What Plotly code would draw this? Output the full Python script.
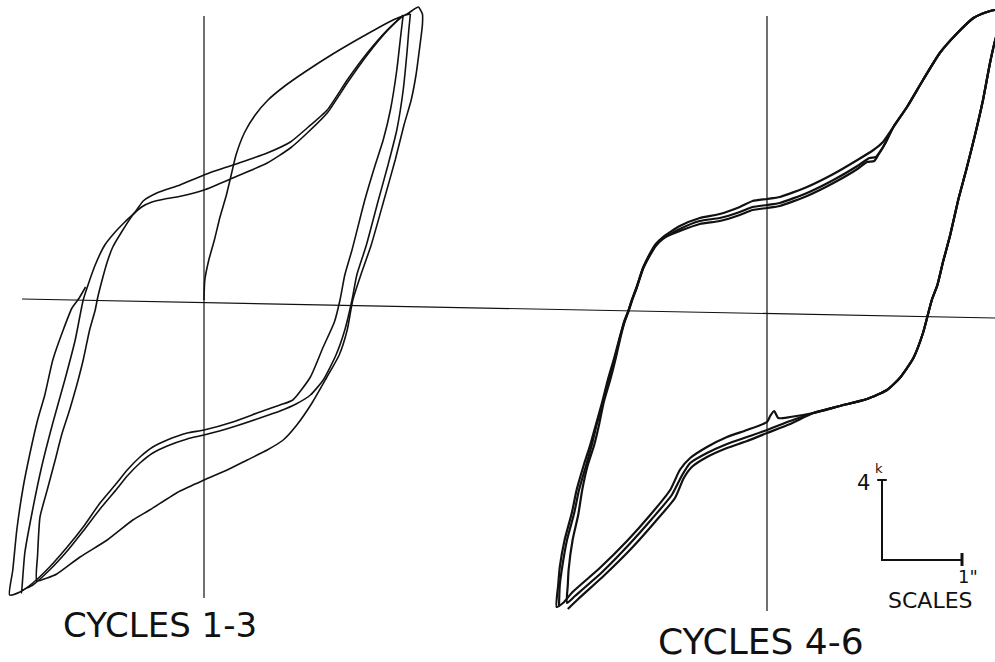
import plotly.graph_objects as go

# ---------------- data: displacement (in) and load (kips) ----------------
# LEFT PANEL: cycles 1-3
L_C1_X = [0, 0.01, 0.06, 0.13, 0.2, 0.28, 0.34, 0.4, 0.51, 0.64, 0.8, 1.01, 1.26, 1.61, 2.04, 2.39, 2.54,
          2.63, 2.68, 2.73, 2.73, 2.7, 2.65, 2.59, 2.5, 2.39, 2.25, 2.09, 1.96, 1.86, 1.79, 1.69, 1.53, 1.35,
          1.16, 0.99, 0.79, 0.54, 0.29, 0, -0.3, -0.68, -0.89, -1.21, -1.55, -1.84, -1.96, -2.09,
          -2.08, -2.05, -1.96, -1.86, -1.78, -1.68, -1.59, -1.51, -1.43, -1.36, -1.33, -1.28, -1.21, -1.14,
          -1.03, -0.89, -0.78, -0.65, -0.49, -0.28, 0, 0.36, 0.79, 1.08, 1.29, 1.54, 1.79, 2.04, 2.3, 2.49, 2.58]
L_C1_Y = [0, 1.0, 2.0, 3.0, 4.15, 5.25, 6.25, 7.25, 8.4, 9.25, 10.0, 10.7, 11.4, 12.3, 13.3, 14.05, 14.3,
          14.55, 14.65, 14.3, 13.75, 12.75, 11.25, 10.0, 8.75, 7.0, 5.0, 2.75, 1.25, 0, -1.5, -2.75, -3.9, -5.15,
          -6.25, -7.0, -7.5, -8.0, -8.5, -9.0, -9.55, -10.5, -11.0, -12.0, -12.85, -13.7, -13.9, -14.05,
          -12.75, -10.85, -9.5, -8.0, -6.75, -5.5, -4.25, -3.0, -1.5, -0.5, 0.1, 0.9, 1.9, 2.65,
          3.4, 4.25, 4.65, 4.9, 5.05, 5.2, 5.5, 6.1, 6.85, 7.6, 8.35, 9.35, 10.85, 12.25, 13.5, 14.2, 14.3]

L_C2_X = [2.58, 2.56, 2.54, 2.49, 2.41, 2.3, 2.18, 2.03, 1.91, 1.85, 1.76, 1.65, 1.49, 1.33, 1.15, 0.95,
          0.7, 0.36, 0, -0.21, -0.46, -0.64, -0.8, -0.96, -1.09, -1.3, -1.51, -1.71, -1.93, -2.14, -2.28,
          -2.28, -2.24, -2.15, -2.03, -1.89, -1.74, -1.61, -1.51, -1.45, -1.36, -1.24, -1.11, -0.99, -0.86,
          -0.76, -0.59, -0.3, 0, 0.36, 0.79, 1.08, 1.29, 1.54, 1.79, 2.04, 2.29, 2.49]
L_C2_Y = [14.3, 13.5, 12.5, 10.5, 8.5, 6.75, 5.0, 2.75, 1.25, 0, -1.5, -2.75, -4.0, -4.75, -5.2, -5.55,
          -5.9, -6.35, -6.75, -6.95, -7.3, -7.65, -8.15, -8.8, -9.45, -10.45, -11.55, -12.55, -13.5, -14.25, -14.55,
          -14.65, -12.65, -10.65, -8.35, -6.15, -4.0, -2.0, 0, 0.75, 1.75, 2.75, 3.4, 3.9, 4.4,
          4.95, 5.35, 5.75, 6.25, 6.75, 7.35, 7.9, 8.6, 9.5, 11.0, 12.35, 13.5, 14.25]

L_C3_X = [2.49, 2.46, 2.41, 2.33, 2.24, 2.14, 2.01, 1.85, 1.76, 1.7, 1.63, 1.49, 1.33, 1.11, 0.95, 0.7,
          0.36, 0, -0.21, -0.46, -0.64, -0.8, -0.96, -1.09, -1.3, -1.51, -1.71, -1.93, -2.14, -2.3, -2.43,
          -2.39, -2.34, -2.26, -2.18, -2.08, -1.99, -1.89, -1.76, -1.65, -1.56, -1.48]
L_C3_Y = [14.25, 13.25, 11.5, 9.5, 8.0, 6.75, 5.0, 2.5, 1.25, 0, -1.1, -2.35, -3.85, -5.0, -5.25, -5.6,
          -6.1, -6.5, -6.65, -7.0, -7.35, -7.85, -8.5, -9.15, -10.15, -11.35, -12.35, -13.35, -14.15, -14.6, -14.75,
          -13.5, -11.5, -9.35, -7.75, -6.0, -4.75, -3.0, -1.5, -0.4, 0.1, 0.65]

# RIGHT PANEL: cycles 4-6
R_TOP_X = [1.58, 1.75, 1.95, 2.16, 2.38, 2.58, 2.75, 2.85, 2.93, 2.95,
           2.93, 2.86, 2.79, 2.7, 2.6, 2.49, 2.39, 2.29, 2.2, 2.13, 2.06, 2.01, 1.95, 1.83, 1.66, 1.5, 1.25, 0.91, 0.58]
R_TOP_Y = [9.3, 10.3, 11.65, 13.0, 14.0, 14.75, 15.05, 15.15, 15.1, 14.85,
           14.4, 13.75, 12.55, 10.65, 8.9, 7.15, 5.65, 3.9, 2.55, 1.4, 0.65, -0.1, -1.0, -2.25, -3.25, -3.85, -4.3, -4.65, -5.0]

R_C4_RISE_X = [-2.63, -2.61, -2.59, -2.53, -2.44, -2.38, -2.29, -2.21, -2.14, -2.06, -1.99, -1.91, -1.84, -1.78,
               -1.73, -1.68, -1.63, -1.55, -1.46, -1.39, -1.3, -1.09, -0.84, -0.59, -0.34, -0.18, 0, 0.16, 0.5,
               0.83, 1.13, 1.33, 1.45]
R_C4_RISE_Y = [-14.7, -13.6, -12.7, -11.35, -10.0, -8.85, -7.6, -6.6, -5.6, -4.45, -3.35, -2.25, -1.2, -0.35,
               0.15, 0.75, 1.3, 2.25, 3.0, 3.45, 3.8, 4.35, 4.75, 4.95, 5.3, 5.6, 5.7, 5.8, 6.3,
               6.95, 7.65, 8.15, 8.55]
R_C4_FALL_X = [0.29, 0.14, 0.09, 0.04, 0, -0.25, -0.5, -0.75, -0.96, -1.09, -1.21, -1.46, -1.75, -2.09, -2.43, -2.55, -2.63]
R_C4_FALL_Y = [-5.2, -5.25, -4.9, -5.15, -5.45, -5.85, -6.2, -6.7, -7.25, -7.85, -8.85, -10.1, -11.4, -12.75, -13.95, -14.5, -14.7]

R_C5_RISE_X = [-2.5, -2.49, -2.48, -2.43, -2.36, -2.31, -2.24, -2.16, -2.1, -2.04, -1.96, -1.89, -1.83, -1.78,
               -1.74, -1.69, -1.63, -1.55, -1.46, -1.39, -1.3, -1.09, -0.84, -0.59, -0.34, -0.18, 0, 0.16, 0.5,
               0.83, 1.13, 1.28, 1.36, 1.41, 1.48]
R_C5_RISE_Y = [-14.5, -13.6, -12.85, -11.35, -10.1, -8.85, -7.6, -6.6, -5.6, -4.45, -3.35, -2.25, -1.2, -0.45,
               0, 0.65, 1.25, 2.2, 2.9, 3.35, 3.7, 4.2, 4.6, 4.75, 5.05, 5.3, 5.4, 5.5, 6.0,
               6.65, 7.35, 7.75, 7.8, 8.05, 8.5]
R_C5_FALL_X = [0.29, 0, -0.25, -0.5, -0.75, -0.96, -1.06, -1.19, -1.44, -1.73, -2.06, -2.4, -2.5]
R_C5_FALL_Y = [-5.4, -5.85, -6.2, -6.55, -7.0, -7.5, -8.1, -9.1, -10.3, -11.6, -12.95, -14.15, -14.5]

R_C6_RISE_X = [-2.6, -2.59, -2.56, -2.5, -2.41, -2.35, -2.26, -2.19, -2.13, -2.05, -1.98, -1.9, -1.84, -1.78,
               -1.73, -1.68, -1.63, -1.55, -1.46, -1.39, -1.3, -1.09, -0.84, -0.59, -0.34, -0.18, 0, 0.16, 0.5,
               0.83, 1.13, 1.25, 1.34, 1.39, 1.46]
R_C6_RISE_Y = [-14.65, -13.6, -12.7, -11.35, -10.0, -8.85, -7.6, -6.6, -5.6, -4.45, -3.35, -2.25, -1.25, -0.4,
               0.1, 0.7, 1.25, 2.25, 2.95, 3.4, 3.75, 4.1, 4.45, 4.6, 4.9, 5.15, 5.25, 5.35, 5.85,
               6.5, 7.2, 7.55, 7.6, 7.9, 8.35]
R_C6_FALL_X = [0.29, 0, -0.25, -0.5, -0.75, -0.94, -1.04, -1.15, -1.4, -1.69, -2.03, -2.36, -2.49]
R_C6_FALL_Y = [-5.55, -6.0, -6.4, -6.75, -7.2, -7.7, -8.25, -9.25, -10.45, -11.75, -13.1, -14.3, -14.8]

# reference axes (drawn by hand on the original)
L_VAXIS_Y = [14.2, -14.9]
R_VAXIS_Y = [14.85, -14.9]
HAXIS_X = [-2.275, 9.8875]   # in left-panel units
HAXIS_Y = [0.05, -0.9]

# scale bar
SCALE_LOAD_K = 4
SCALE_DISP_IN = 1
SCALE_ORIGIN = (1.4375, -12.35)  # right-panel units

# ---------------- figure ----------------
INK = "#111111"
fig = go.Figure()

def add(x, y, axes, width, shape="spline"):
    xa, ya = axes
    fig.add_trace(go.Scatter(x=x, y=y, mode="lines", xaxis=xa, yaxis=ya,
                             line=dict(color=INK, width=width, shape=shape, smoothing=0.55),
                             hoverinfo="skip", showlegend=False))

LEFT = ("x", "y")
RIGHT = ("x2", "y2")

# axes lines
add([0, 0], L_VAXIS_Y, LEFT, 1.2, "linear")
add([0, 0], R_VAXIS_Y, RIGHT, 1.2, "linear")
add(HAXIS_X, HAXIS_Y, LEFT, 1.2, "linear")

# left loops
for xs, ys in [(L_C1_X, L_C1_Y), (L_C2_X, L_C2_Y), (L_C3_X, L_C3_Y)]:
    add(xs, ys, LEFT, 1.6)

# right loops
for rx, ry, fx, fy in [(R_C4_RISE_X, R_C4_RISE_Y, R_C4_FALL_X, R_C4_FALL_Y),
                       (R_C5_RISE_X, R_C5_RISE_Y, R_C5_FALL_X, R_C5_FALL_Y),
                       (R_C6_RISE_X, R_C6_RISE_Y, R_C6_FALL_X, R_C6_FALL_Y)]:
    add(rx + R_TOP_X + fx, ry + R_TOP_Y + fy, RIGHT, 2.2)

# scale bar
sx, sy = SCALE_ORIGIN
add([sx, sx, sx + SCALE_DISP_IN], [sy + SCALE_LOAD_K, sy, sy], RIGHT, 2.0, "linear")
add([sx - 0.06, sx + 0.06], [sy + SCALE_LOAD_K, sy + SCALE_LOAD_K], RIGHT, 2.0, "linear")
add([sx + SCALE_DISP_IN, sx + SCALE_DISP_IN], [sy - 0.3, sy + 0.35], RIGHT, 3.0, "linear")

FONT = "DejaVu Sans"
ann = [
    dict(text="CYCLES 1-3", x=-0.55, y=-16.25, xref="x", yref="y", font=dict(size=34)),
    dict(text="CYCLES 4-6", x=-0.075, y=-16.4, xref="x2", yref="y2", font=dict(size=36)),
    dict(text="SCALES", x=2.04, y=-14.35, xref="x2", yref="y2", font=dict(size=22)),
    dict(text="4", x=sx - 0.125, y=sy + SCALE_LOAD_K - 0.15, xref="x2", yref="y2",
         xanchor="right", font=dict(size=21)),
    dict(text="k", x=sx - 0.115, y=sy + SCALE_LOAD_K + 0.6, xref="x2", yref="y2",
         xanchor="left", font=dict(size=13)),
    dict(text='1"', x=sx + SCALE_DISP_IN - 0.08, y=sy - 0.8, xref="x2", yref="y2",
         xanchor="left", font=dict(size=18)),
]
for a in ann:
    a.setdefault("xanchor", "center")
    a["yanchor"] = "middle"
    a["showarrow"] = False
    a["font"]["family"] = FONT
    a["font"]["color"] = INK

fig.update_layout(
    width=995, height=662, autosize=False,
    margin=dict(l=0, r=0, t=0, b=0, pad=0),
    paper_bgcolor="white", plot_bgcolor="white",
    showlegend=False,
    xaxis=dict(range=[-2.55, 9.8875], visible=False, domain=[0, 1], fixedrange=True),
    yaxis=dict(range=[-18.1, 15.0], visible=False, domain=[0, 1], fixedrange=True),
    xaxis2=dict(range=[-9.5875, 2.85], visible=False, overlaying="x", anchor="y2", fixedrange=True),
    yaxis2=dict(range=[-17.45, 15.65], visible=False, overlaying="y", anchor="x2", fixedrange=True),
    annotations=ann,
)

fig.write_html("out.html", config={"displayModeBar": False},
               post_script="document.body.style.margin='0';")
